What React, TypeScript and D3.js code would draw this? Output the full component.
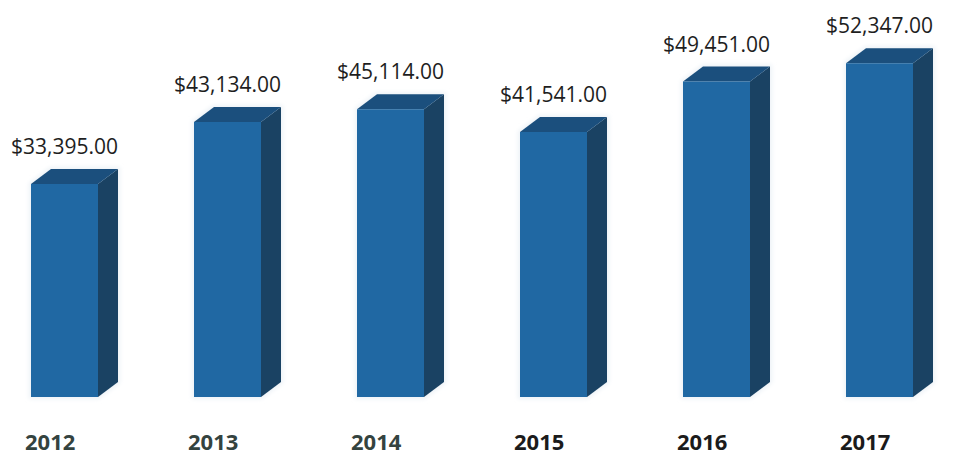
import React from "react";
import * as d3 from "d3";

const years = ["2012", "2013", "2014", "2015", "2016", "2017"];
const values = [33395, 43134, 45114, 41541, 49451, 52347];
const yearColors = ["#34433f", "#34433f", "#34433f", "#1b1b1b", "#1b1b1b", "#1b1b1b"];

const W = 955;
const H = 455;
const DX = 20;
const DY = 15;

const fmt = (v: number) => "$" + d3.format(",.2f")(v);

export default function App() {
  const x = d3
    .scaleBand<string>()
    .domain(years)
    .range([31, 913])
    .paddingInner(96 / 163)
    .paddingOuter(0);
  const y = d3.scaleLinear().domain([0, 62245]).range([397, 0]);
  const bw = x.bandwidth();

  return (
    <svg
      width={W}
      height={H}
      style={{ position: "absolute", left: 0, top: 0, background: "#fff" }}
      fontFamily="'Open Sans', sans-serif"
    >
      <defs>
        <filter id="glow" x="-20%" y="-20%" width="140%" height="140%">
          <feGaussianBlur stdDeviation="2" />
        </filter>
      </defs>
      {years.map((yr, i) => {
        const x0 = x(yr)!;
        const x1 = x0 + bw;
        const yt = y(values[i]);
        const yb = y(0);
        const front = `M${x0},${yt}L${x1},${yt}L${x1},${yb}L${x0},${yb}Z`;
        const top = `M${x0},${yt}L${x1},${yt}L${x1 + DX},${yt - DY}L${x0 + DX},${yt - DY}Z`;
        const side = `M${x1},${yt}L${x1 + DX},${yt - DY}L${x1 + DX},${yb - DY}L${x1},${yb}Z`;
        const outline = `M${x0},${yt}L${x0 + DX},${yt - DY}L${x1 + DX},${yt - DY}L${x1 + DX},${yb - DY}L${x1},${yb}L${x0},${yb}Z`;
        return (
          <g key={yr}>
            <path d={outline} fill="#e8f0f6" stroke="#eef3f7" strokeWidth={4} filter="url(#glow)" />
            <path d={side} fill="#1a4263" />
            <path d={top} fill="#1b4f7d" />
            <path d={front} fill="#2068a3" />
            <text
              x={x0 + bw / 2}
              y={yt - DY - 15}
              textAnchor="middle"
              fontSize={21}
              fill="#1e1e1e"
            >
              {fmt(values[i])}
            </text>
            <text
              x={x0 - 6}
              y={450}
              fontSize={22}
              fontWeight="bold"
              fill={yearColors[i]}
            >
              {yr}
            </text>
          </g>
        );
      })}
    </svg>
  );
}
